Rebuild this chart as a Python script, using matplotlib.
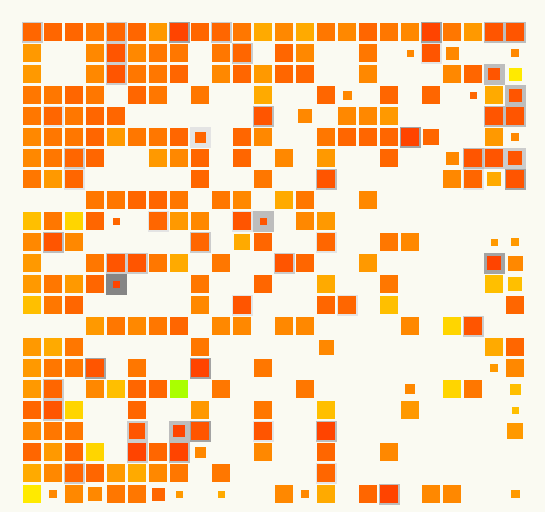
import matplotlib.pyplot as plt
from matplotlib.patches import Rectangle

# colour level of each cell, one string per row ('.' = empty)
ROWS = [
    "cccdccfaccdgegdecdeadfbb",
    "f..ebedd.dc.ce..d.ebe..e",
    "f..ebddc.ecfcc..e...ecbj",
    "ddcd.cd.d..g..ce.c.c.cgb",
    "dcdcc......b.e.eef....bb",
    "eddcfddcc.ce..dcccac..fe",
    "edcc..fec.c.e.f..c..ebbb",
    "dfc.....c..d..b.....ecgb",
    "...ddccd.de.gd..e.......",
    "hdicc.cfe.bb.ef.........",
    "ebe.....c.gc..c..de...ff",
    "f..dbbdg.d..bc..f.....ae",
    "fdfca...d..c..g..d....hh",
    "hdc.....e.b...cc.h.....c",
    "...fdedc.ee.ee....e.ib..",
    "fgd.....d.....e.......gc",
    "fddb.d..a..d..........fe",
    "fc.ehccz.d...d....e.id.h",
    "cbi..c..f..d..h...f....h",
    "edd..b.ab..b..a........f",
    "cfci.acae..e..c..e......",
    "geccfged.d....c.........",
    "jeeeddcf.g..eeg.ca.ee..f",
]

# cells whose square is smaller than full (value out of 18)
SMALL = {
    (1, 18): 7, (1, 20): 13, (1, 23): 8,
    (2, 22): 12, (2, 23): 13,
    (3, 15): 9, (3, 21): 7, (3, 23): 13,
    (4, 13): 14,
    (5, 8): 11, (5, 19): 16, (5, 23): 8,
    (6, 20): 13, (6, 23): 14,
    (7, 22): 14,
    (9, 4): 7, (9, 11): 7,
    (10, 10): 16, (10, 22): 7, (10, 23): 8,
    (11, 22): 14, (11, 23): 15,
    (12, 4): 7, (12, 23): 14,
    (15, 14): 15,
    (16, 22): 8,
    (17, 18): 10, (17, 23): 11,
    (18, 23): 7,
    (19, 5): 16, (19, 7): 12, (19, 23): 16,
    (20, 8): 11,
    (22, 1): 8, (22, 3): 14, (22, 6): 13, (22, 7): 7, (22, 9): 7,
    (22, 13): 8, (22, 23): 9,
}

# highlighted cells, grey level 1 (light) .. 5 (dark)
FRAMES = {
    (0, 0): 2, (0, 4): 2, (0, 7): 4, (0, 9): 2, (0, 19): 4, (0, 22): 3, (0, 23): 3,
    (1, 4): 2, (1, 10): 2, (1, 19): 1,
    (2, 4): 2, (2, 22): 3,
    (3, 23): 3,
    (4, 1): 1, (4, 11): 3, (4, 22): 3, (4, 23): 3,
    (5, 8): 1, (5, 18): 4,
    (6, 2): 2, (6, 21): 3, (6, 22): 2, (6, 23): 2,
    (7, 2): 1, (7, 14): 3, (7, 21): 1, (7, 23): 4,
    (9, 6): 1, (9, 10): 1, (9, 11): 3,
    (10, 1): 3, (10, 8): 2, (10, 14): 1,
    (11, 4): 2, (11, 5): 2, (11, 12): 2, (11, 22): 4,
    (12, 4): 5,
    (13, 10): 1, (13, 15): 1,
    (14, 21): 2,
    (16, 3): 4, (16, 8): 4,
    (17, 1): 2,
    (18, 1): 2,
    (19, 5): 2, (19, 7): 3, (19, 8): 4, (19, 11): 1, (19, 14): 3,
    (20, 5): 2, (20, 7): 3,
    (21, 2): 2, (21, 14): 1,
    (22, 17): 3,
}

PALETTE = {
    "a": "#ff4400", "b": "#ff5500", "c": "#ff6600", "d": "#ff7700",
    "e": "#ff8800", "f": "#ff9900", "g": "#ffaa00", "h": "#ffbf00",
    "i": "#ffd500", "j": "#ffea00", "z": "#aaff00",
}
GREYS = {1: "#e4e4e4", 2: "#cccccc", 3: "#bdbdbd", 4: "#a3a3a3", 5: "#858585"}
BG = "#fafaf2"

n_rows, n_cols = len(ROWS), len(ROWS[0])

fig = plt.figure(figsize=(5.45, 5.12), dpi=100, facecolor=BG)
# 21 px per cell, grid starts at 21.5 px from the left / top
ax = fig.add_axes([21.5 / 545, (512 - 21.5 - 21 * n_rows) / 512,
                   21 * n_cols / 545, 21 * n_rows / 512])
ax.set_facecolor(BG)
ax.set_xlim(-0.5, n_cols - 0.5)
ax.set_ylim(n_rows - 0.5, -0.5)
ax.axis("off")

for r, row in enumerate(ROWS):
    for c, ch in enumerate(row):
        if ch == ".":
            continue
        if (r, c) in FRAMES:
            ax.add_patch(Rectangle((c - 0.5, r - 0.5), 1, 1, lw=0,
                                   facecolor=GREYS[FRAMES[(r, c)]], zorder=1))
        s = SMALL.get((r, c), 18) / 21
        ax.add_patch(Rectangle((c - s / 2, r - s / 2), s, s, lw=0,
                               facecolor=PALETTE[ch], zorder=2))

fig.savefig("out.png", dpi=100, facecolor=BG)
